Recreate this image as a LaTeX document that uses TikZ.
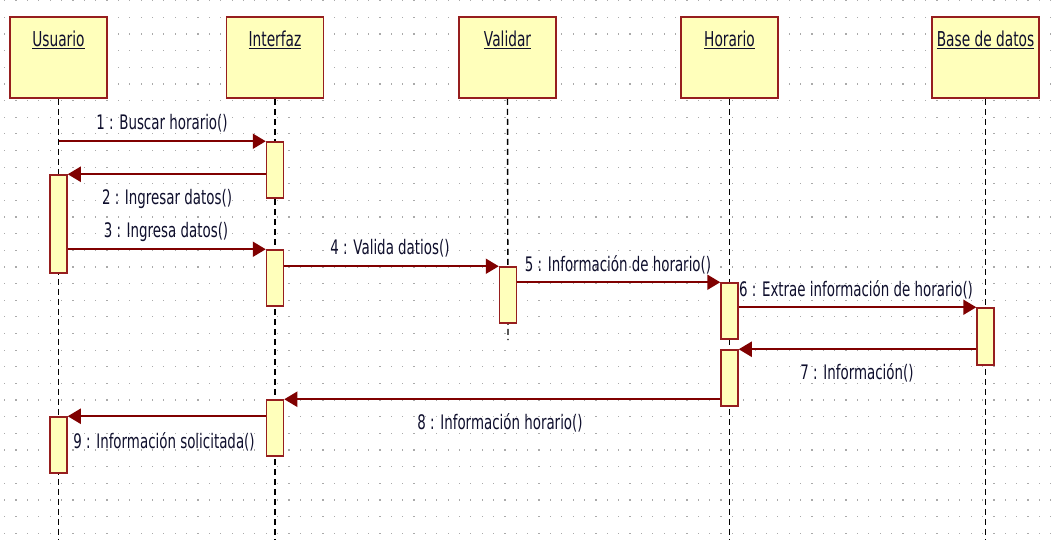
\documentclass[tikz,border=0pt]{standalone}
\usepackage{fontspec}
\setmainfont{DejaVu Sans}[FakeStretch=0.67]
\usetikzlibrary{arrows.meta}
\definecolor{boxfill}{RGB}{255,255,187}
\definecolor{boxline}{RGB}{150,30,30}
\definecolor{msgc}{RGB}{128,0,0}
\definecolor{txtc}{RGB}{15,15,45}
\definecolor{dotc}{RGB}{170,170,170}
\begin{document}
\begin{tikzpicture}[x=1pt,y=-1pt,
  head/.style={draw=boxline, fill=boxfill, line width=1.5pt, minimum width=97pt, minimum height=81pt, inner sep=0pt},
  act/.style={draw=boxline, fill=boxfill, line width=1.5pt, minimum width=17pt, inner sep=0pt},
  lifeline/.style={black, line width=1.4pt, dash pattern=on 6pt off 4pt},
  msg/.style={msgc, line width=2pt, -{Triangle[length=13pt,width=15pt]}},
  lbl/.style={text=txtc, font=\fontsize{20}{22}\selectfont, inner sep=0pt},
  headlbl/.style={text=txtc, font=\fontsize{20.5}{22}\selectfont, inner sep=0pt}]
\useasboundingbox (0,0) rectangle (1057,539);
\fill[white] (0,0) rectangle (1057,539);
% grid dots
\foreach \i in {0,...,92}{
  \foreach \j in {0,...,32}{
    \fill[dotc] (4.1+11.37*\i, 0.1+16.64*\j) rectangle ++(1.2,1.2);
  }
}
% heads
\node[head] (usuario) at (58.5,57.5) {};
\node[head] (interfaz) at (275,57.5) {};
\node[head] (validar) at (507.5,57.5) {};
\node[head] (horario) at (729.5,57.5) {};
\node[head, minimum width=107pt] (bd) at (985.5,57.5) {};
\node[headlbl] (tusuario) at (58.5,40) {\underline{Usuario}};
\node[headlbl] (tinterfaz) at (275,40) {\underline{Interfaz}};
\node[headlbl] (tvalidar) at (507.5,40) {\underline{Validar}};
\node[headlbl] (thorario) at (729.5,40) {\underline{Horario}};
\node[headlbl] (tbd) at (985.5,40) {\underline{Base de datos}};
% lifeline ends
\coordinate (uend) at (58.5,539);
\coordinate (iend) at (275,539);
\coordinate (vend) at (508,340);
\coordinate (hend) at (729.5,539);
\coordinate (bend) at (985.5,539);
\draw[lifeline] (usuario.south) -- (uend);
\draw[lifeline] (interfaz.south) -- (iend);
\draw[lifeline] (validar.south) -- (vend);
\draw[lifeline] (horario.south) -- (hend);
\draw[lifeline] (bd.south) -- (bend);
% activations
\node[act, minimum height=98pt] (ua1) at (58.5,224) {};
\node[act, minimum height=56pt] (ua2) at (58.5,445) {};
\node[act, minimum height=56pt] (ia1) at (275,170) {};
\node[act, minimum height=56pt] (ia2) at (275,278) {};
\node[act, minimum height=56pt] (ia3) at (275,428) {};
\node[act, minimum height=56pt] (va) at (508,295) {};
\node[act, minimum height=56pt] (ha1) at (729.5,311) {};
\node[act, minimum height=56pt] (ha2) at (729.5,378) {};
\node[act, minimum height=57pt] (ba) at (985.5,336.5) {};
% messages
\draw[msg] (ia1.north west -| usuario.south) -- (ia1.north west);
\draw[msg] (ua1.north east -| ia1.west) -- (ua1.north east);
\draw[msg] (ia2.north west -| ua1.east) -- (ia2.north west);
\draw[msg] (va.north west -| ia2.east) -- (va.north west);
\draw[msg] (ha1.north west -| va.east) -- (ha1.north west);
\draw[msg] (ba.north west -| ha1.east) -- (ba.north west);
\draw[msg] (ha2.north east -| ba.west) -- (ha2.north east);
\draw[msg] (ia3.north east -| ha2.west) -- (ia3.north east);
\draw[msg] (ua2.north east -| ia3.west) -- (ua2.north east);
% labels
\node[lbl] (m1) at (162,123) {1 : Buscar horario()};
\node[lbl] (m2) at (167,199) {2 : Ingresar datos()};
\node[lbl] (m3) at (166,232) {3 : Ingresa datos()};
\node[lbl] (m4) at (390,248) {4 : Valida datios()};
\node[lbl] (m5) at (618,265) {5 : Información de horario()};
\node[lbl] (m6) at (856,290) {6 : Extrae información de horario()};
\node[lbl] (m7) at (857,373) {7 : Información()};
\node[lbl] (m8) at (500,423) {8 : Información horario()};
\node[lbl] (m9) at (164,442) {9 : Información solicitada()};
\end{tikzpicture}
\end{document}
